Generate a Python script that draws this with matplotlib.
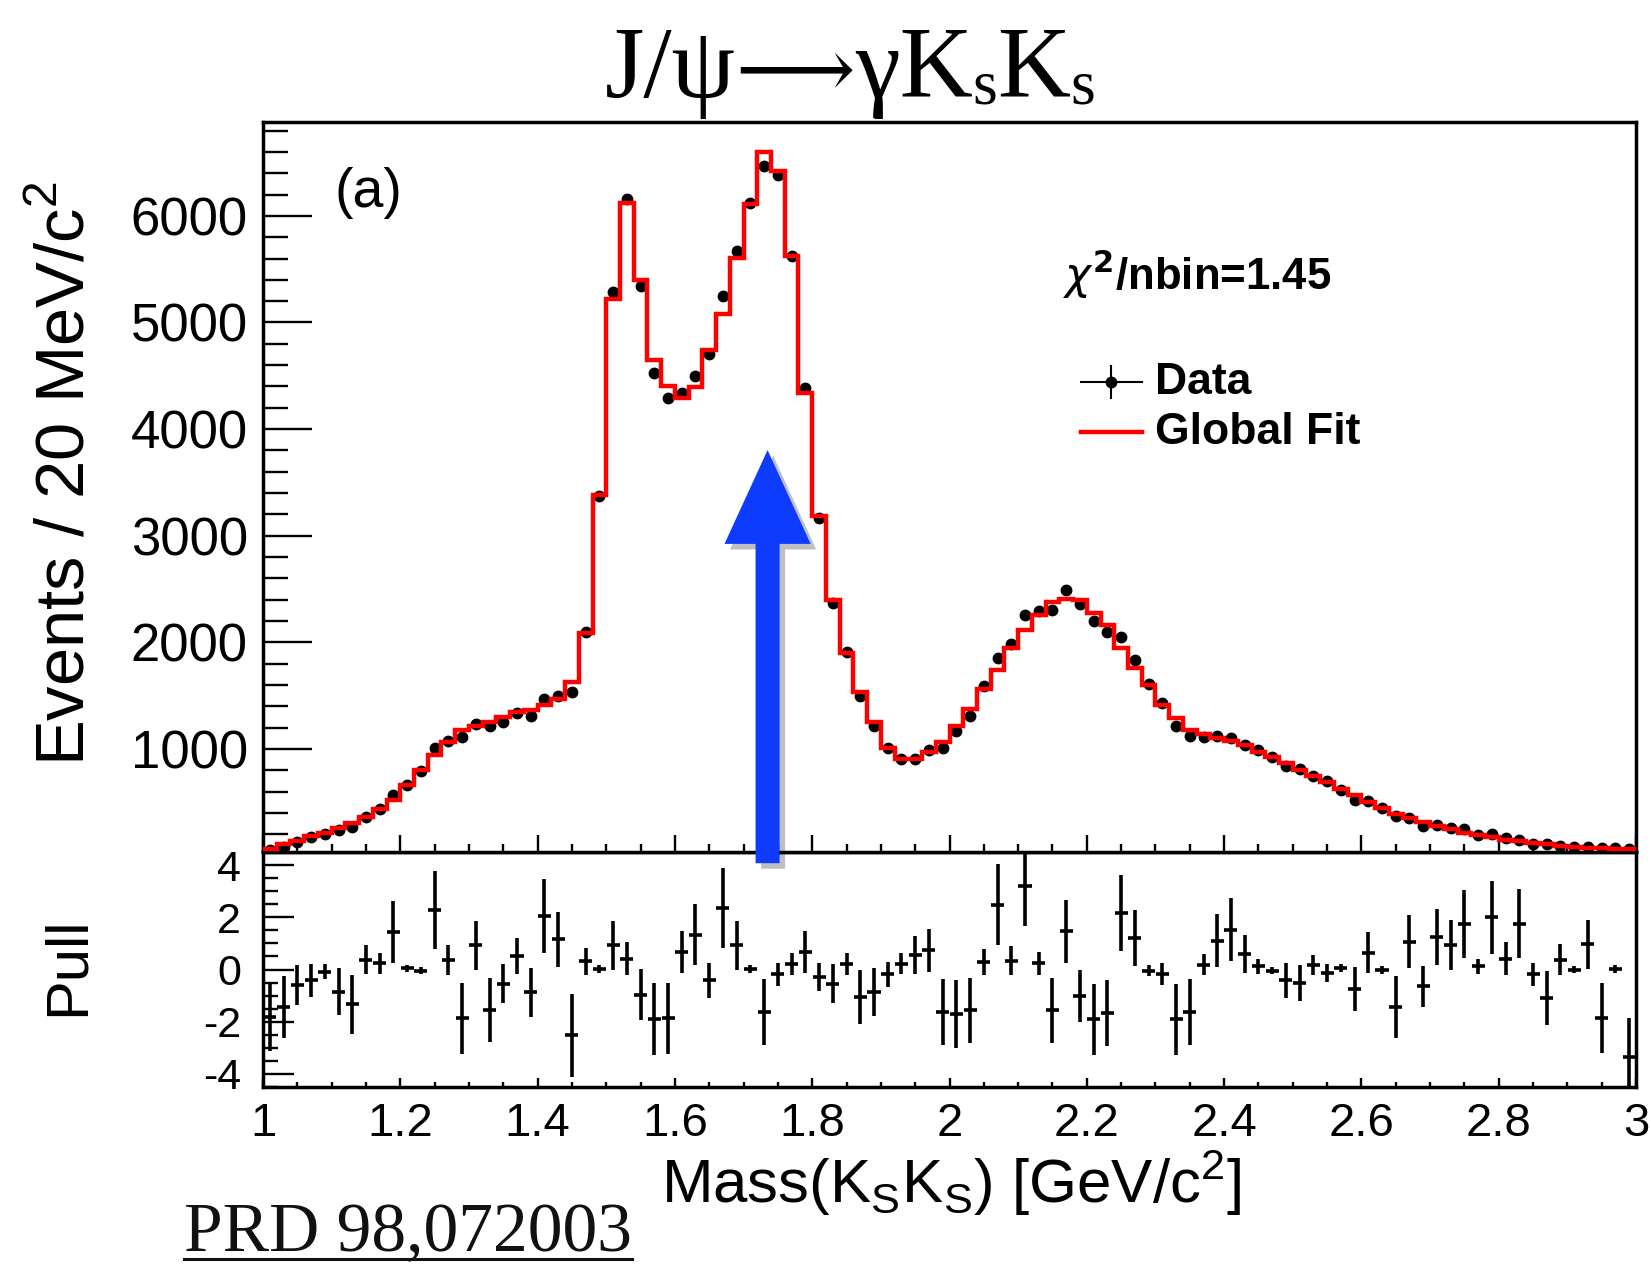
import numpy as np
import matplotlib
matplotlib.use("Agg")
import matplotlib.pyplot as plt
from matplotlib.patches import FancyArrow
import matplotlib.patheffects as pe
from matplotlib.ticker import FixedLocator, FixedFormatter, MultipleLocator

plt.rcParams['font.family'] = ['Liberation Sans', 'DejaVu Sans']
plt.rcParams['axes.unicode_minus'] = False

# ---------------- data ----------------
mass_range = [1.0, 3.0]
n_bins = 100

data_counts = [50, 84, 128, 173, 208, 239, 274, 363, 438, 571,
               659, 792, 1013, 1080, 1111, 1235, 1212, 1257, 1341, 1310,
               1473, 1500, 1531, 2097, 3372, 5283, 6155, 5341, 4531, 4288,
               4341, 4496, 4708, 5252, 5668, 6124, 6469, 6381, 5628, 4385,
               3168, 2372, 1912, 1500, 1221, 1013, 903, 903, 991, 1013,
               1168, 1314, 1588, 1854, 1987, 2261, 2296, 2305, 2496, 2363,
               2199, 2097, 2053, 1832, 1611, 1434, 1221, 1124, 1111, 1124,
               1102, 1035, 991, 925, 845, 814, 748, 704, 615, 527,
               513, 447, 372, 358, 283, 292, 261, 252, 195, 204,
               164, 150, 106, 106, 93, 84, 84, 75, 75, 62]

fit_counts = [62, 106, 142, 181, 217, 261, 305, 363, 438, 527,
              659, 801, 947, 1066, 1177, 1212, 1257, 1301, 1345, 1367,
              1412, 1465, 1633, 2084, 3381, 5217, 6124, 5403, 4650, 4407,
              4296, 4398, 4743, 5084, 5602, 6111, 6597, 6420, 5624, 4341,
              3181, 2394, 1898, 1535, 1257, 1013, 903, 903, 969, 1066,
              1221, 1376, 1566, 1743, 1951, 2119, 2261, 2376, 2407, 2394,
              2274, 2164, 1951, 1765, 1597, 1412, 1288, 1181, 1146, 1102,
              1080, 1035, 969, 925, 867, 801, 748, 690, 624, 571,
              504, 447, 394, 350, 314, 283, 248, 217, 195, 173,
              150, 137, 115, 106, 93, 84, 75, 71, 66, 62]

pull_values = [-1.82, -1.43, -0.60, -0.42, -0.09, -0.85, -1.34, 0.37, 0.24, 1.44,
               0.04, -0.04, 2.28, 0.37, -1.86, 0.93, -1.55, -0.54, 0.52, -0.87,
               2.04, 1.15, -2.52, 0.32, 0.03, 0.93, 0.42, -0.96, -1.89, -1.86,
               0.68, 1.34, -0.42, 2.36, 0.92, 0.03, -1.63, -0.19, 0.22, 0.66,
               -0.29, -0.54, 0.22, -1.06, -0.85, -0.19, 0.22, 0.57, 0.74, -1.62,
               -1.69, -1.57, 0.28, 2.48, 0.34, 3.18, 0.23, -1.57, 1.46, -1.02,
               -1.91, -1.66, 2.17, 1.21, -0.04, -0.17, -1.91, -1.63, 0.19, 1.11,
               1.53, 0.60, 0.13, -0.04, -0.42, -0.51, 0.17, -0.13, 0.06, -0.74,
               0.64, -0.03, -1.44, 1.06, -0.64, 1.24, 0.93, 1.75, 0.13, 2.00,
               0.42, 1.76, -0.19, -1.08, 0.38, 0.00, 0.96, -1.85, 0.03, -3.35]

pull_errors = [1.30, 1.18, 0.76, 0.64, 0.29, 0.91, 1.13, 0.55, 0.41, 1.18,
               0.15, 0.15, 1.48, 0.57, 1.36, 0.94, 1.24, 0.75, 0.69, 0.94,
               1.41, 1.04, 1.58, 0.52, 0.15, 0.94, 0.62, 0.97, 1.37, 1.36,
               0.81, 1.15, 0.66, 1.52, 0.93, 0.15, 1.27, 0.44, 0.42, 0.80,
               0.54, 0.74, 0.42, 1.03, 0.92, 0.47, 0.40, 0.73, 0.82, 1.27,
               1.30, 1.25, 0.50, 1.56, 0.56, 1.53, 0.45, 1.23, 1.21, 0.99,
               1.36, 1.27, 1.45, 1.08, 0.20, 0.41, 1.36, 1.27, 0.40, 1.03,
               1.22, 0.74, 0.29, 0.15, 0.66, 0.70, 0.39, 0.35, 0.15, 0.84,
               0.79, 0.15, 1.19, 1.02, 0.78, 1.08, 0.96, 1.30, 0.29, 1.40,
               0.62, 1.31, 0.45, 1.04, 0.60, 0.15, 0.95, 1.34, 0.15, 1.50]

x_tick_values = [1.0, 1.2, 1.4, 1.6, 1.8, 2.0, 2.2, 2.4, 2.6, 2.8, 3.0]
x_tick_labels = ['1', '1.2', '1.4', '1.6', '1.8', '2', '2.2', '2.4', '2.6', '2.8', '3']
y_tick_values = [1000, 2000, 3000, 4000, 5000, 6000]
y_tick_labels = ['1000', '2000', '3000', '4000', '5000', '6000']
pull_tick_values = [-4, -2, 0, 2, 4]
pull_tick_labels = ['-4', '-2', '0', '2', '4']

arrow_mass = 1.735
arrow_tip = 3804
chi2_text = r'$\chi^{\mathbf{2}}$/nbin=1.45'
# (text, kind) kind: 'n' normal, 'a' arrow, 's' subscript
title_pieces = [('J/ψ', 'n'), ('⟶', 'a'), ('γK', 'n'), ('s', 's'), ('K', 'n'), ('s', 's')]

# ---------------- figure ----------------
W, H = 1650, 1264
fig = plt.figure(figsize=(W / 100, H / 100), dpi=100)
renderer = fig.canvas.get_renderer()

def fx(px):
    return px / W

def fy(py):
    return 1 - py / H

L, R, T, MB, PB = 263, 1636, 122, 852, 1087
ax = fig.add_axes([fx(L), fy(MB), fx(R) - fx(L), fy(T) - fy(MB)])
axp = fig.add_axes([fx(L), fy(PB), fx(R) - fx(L), fy(MB) - fy(PB)])
ax.set_zorder(3)
axp.set_zorder(2)

edges = np.linspace(mass_range[0], mass_range[1], n_bins + 1)
centers = 0.5 * (edges[:-1] + edges[1:])
half_w = 0.5 * (edges[1] - edges[0])

# main panel
ax.plot(centers, data_counts, 'o', color='black', ms=7.5, zorder=3)
ax.stairs(fit_counts, edges, color='#ff0000', lw=3.2, baseline=None, zorder=4)

ax.set_xlim(mass_range)
ax.set_ylim(35, 6880)
ax.xaxis.set_major_locator(FixedLocator(x_tick_values))
ax.xaxis.set_minor_locator(MultipleLocator(0.05))
ax.yaxis.set_major_locator(FixedLocator(y_tick_values))
ax.yaxis.set_major_formatter(FixedFormatter(y_tick_labels))
ax.yaxis.set_minor_locator(MultipleLocator(200))
ax.tick_params(axis='x', which='both', direction='in', labelbottom=False, width=1.7)
ax.tick_params(axis='x', which='major', length=12)
ax.tick_params(axis='x', which='minor', length=6)
ax.tick_params(axis='y', which='both', direction='in', width=1.7)
ax.tick_params(axis='y', which='major', length=35, labelsize=38, pad=11)
ax.tick_params(axis='y', which='minor', length=18)
for s in ax.spines.values():
    s.set_linewidth(2.5)

# arrow
arr = FancyArrow(arrow_mass, -70, 0, arrow_tip + 70, width=0.035, head_width=0.1255,
                 head_length=880, length_includes_head=True, fc='#0d3cff', ec='none',
                 clip_on=False, zorder=10)
arr.set_path_effects([pe.SimplePatchShadow(offset=(4, -4), shadow_rgbFace='black', alpha=0.25),
                      pe.Normal()])
ax.add_patch(arr)

# texts in main panel
ax.text(0.052, 0.903, '(a)', transform=ax.transAxes, fontsize=40, va='center', ha='left')
ax.text(0.583, 0.792, chi2_text, transform=ax.transAxes, fontsize=31.5, fontweight='bold',
        va='center', ha='left')

# manual legend
def ax_x(px):
    return (px - L) / (R - L)

def ax_y(py):
    return (MB - py) / (MB - T)

yd = ax_y(382)
yf = ax_y(432)
ax.plot([ax_x(1081), ax_x(1142)], [yd, yd], color='black', lw=1.5, transform=ax.transAxes)
ax.plot([ax_x(1111)], [yd], 'o', color='black', ms=7.5, transform=ax.transAxes)
ax.plot([ax_x(1111), ax_x(1111)], [ax_y(366), ax_y(398)], color='black', lw=1.5,
        transform=ax.transAxes)
ax.plot([ax_x(1081), ax_x(1142)], [yf, yf], color='#ff0000', lw=3.2, transform=ax.transAxes)
ax.text(ax_x(1155), yd, 'Data', transform=ax.transAxes, fontsize=32, fontweight='bold',
        va='center', ha='left')
ax.text(ax_x(1155), yf, 'Global Fit', transform=ax.transAxes, fontsize=32, fontweight='bold',
        va='center', ha='left')

# pull panel
axp.errorbar(centers, pull_values, yerr=pull_errors, xerr=half_w * 0.95, fmt='none',
             ecolor='black', elinewidth=2.6, capsize=0)
axp.set_xlim(mass_range)
axp.set_ylim(-4.5, 4.5)
axp.xaxis.set_major_locator(FixedLocator(x_tick_values))
axp.xaxis.set_major_formatter(FixedFormatter(x_tick_labels))
axp.xaxis.set_minor_locator(MultipleLocator(0.05))
axp.yaxis.set_major_locator(FixedLocator(pull_tick_values))
axp.yaxis.set_major_formatter(FixedFormatter(pull_tick_labels))
axp.yaxis.set_minor_locator(MultipleLocator(0.5))
axp.tick_params(axis='x', which='both', direction='in', width=1.7, labelsize=34, pad=11)
axp.tick_params(axis='x', which='major', length=6.5)
axp.tick_params(axis='x', which='minor', length=3.7)
axp.tick_params(axis='y', which='both', direction='in', width=1.7, labelsize=31, pad=16)
axp.tick_params(axis='y', which='major', length=22)
axp.tick_params(axis='y', which='minor', length=11)
for s in axp.spines.values():
    s.set_linewidth(2.5)

# axis labels
fig.text(fx(66), fy(474), r'Events / 20 MeV/c$^{\mathregular{2}}$', rotation=90,
         ha='center', va='center', fontsize=49.5)
fig.text(fx(68), fy(966), 'Pull', rotation=90, ha='center', va='center', fontsize=43)
fig.text(fx(951), fy(1203), r'Mass(K$_{\mathregular{S}}$K$_{\mathregular{S}}$) [GeV/c$^{\mathregular{2}}$]',
         ha='center', va='baseline', fontsize=44.5)

# title built from pieces (avoid math spacing around the arrow)
serif = ['Liberation Serif', 'DejaVu Serif', 'DejaVu Sans']
sizes = {'n': 73, 'a': 60, 's': 46}
drops = {'n': 0, 'a': 0, 's': 6}
objs = []
for txt, kind in title_pieces:
    t = fig.text(0, 0, txt, fontsize=sizes[kind], family=serif, ha='left', va='baseline')
    objs.append((t, kind))
widths = [t.get_window_extent(renderer).width for t, _ in objs]
total = sum(widths)
x0 = 850 - total / 2.0
base = 97
for (t, kind), w in zip(objs, widths):
    t.set_position((fx(x0), fy(base + drops[kind])))
    x0 += w

# reference note
prd = fig.text(fx(184), fy(1251), 'PRD 98,072003', ha='left', va='baseline', fontsize=50,
               family=['Liberation Serif', 'DejaVu Serif'], color='#111111')
bb = prd.get_window_extent(renderer)
fig.add_artist(plt.Line2D([bb.x0 / W, bb.x1 / W], [fy(1259), fy(1259)], color='#111111', lw=2.2))

fig.savefig('out.png', dpi=100)
